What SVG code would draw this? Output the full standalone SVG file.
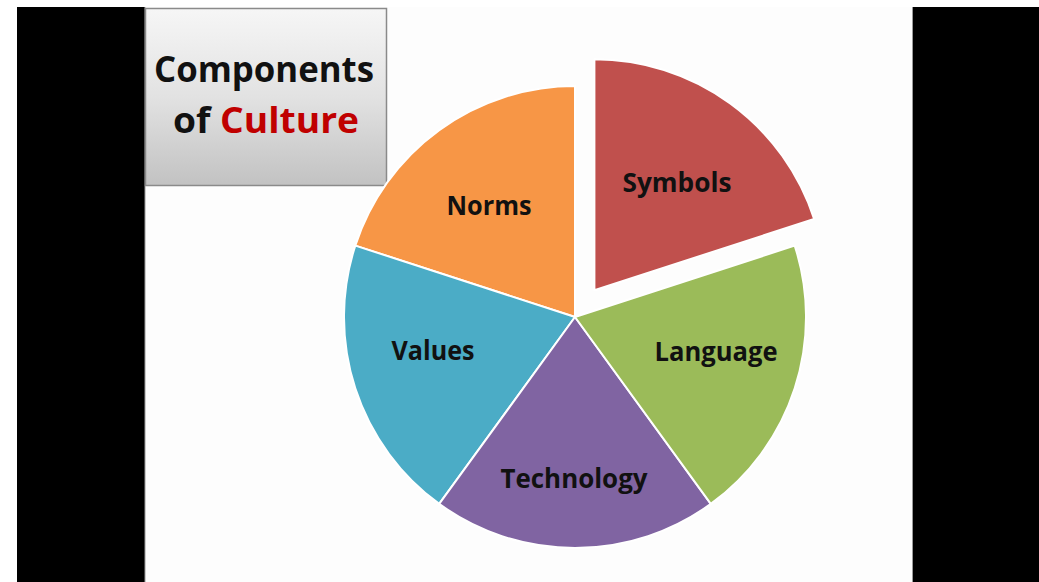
<svg xmlns="http://www.w3.org/2000/svg" width="1039" height="582" viewBox="0 0 1039 582">
<defs>
<linearGradient id="boxg" x1="0" y1="0" x2="0" y2="1">
<stop offset="0" stop-color="#f6f6f6"/>
<stop offset="0.5" stop-color="#e2e2e2"/>
<stop offset="1" stop-color="#c2c2c2"/>
</linearGradient>
</defs>
<style>
.slice{stroke:#ffffff;stroke-width:2;stroke-linejoin:round}
.lbl{font-family:"Open Sans","Liberation Sans",sans-serif;font-weight:bold;font-size:26px;fill:#111111;text-anchor:middle}
.ttl{font-family:"Open Sans","Liberation Sans",sans-serif;font-weight:bold;font-size:36px;fill:#111111;text-anchor:middle}
</style>
<rect x="0" y="0" width="1039" height="582" fill="#ffffff"/>
<rect x="145" y="7" width="768" height="575" fill="#fdfdfd"/>
<rect x="17" y="7" width="128" height="575" fill="#000000"/>
<rect x="913" y="7" width="126" height="575" fill="#000000"/>
<line x1="145" y1="7" x2="145" y2="582" stroke="#9a9a9a" stroke-width="1"/>
<line x1="912.5" y1="7" x2="912.5" y2="582" stroke="#9a9a9a" stroke-width="1"/>

<g id="title">
<rect x="145.5" y="8.5" width="241" height="177" fill="url(#boxg)" stroke="#8a8a8a" stroke-width="1.5"/>
<text class="ttl" x="264" y="82" textLength="220" lengthAdjust="spacingAndGlyphs">Components</text>
<text class="ttl" x="266" y="133" textLength="186" lengthAdjust="spacingAndGlyphs">of <tspan fill="#c00000">Culture</tspan></text>
</g>

<g id="norms">
<path class="slice" fill="#f79646" d="M575 317 L355.3 245.6 A231 231 0 0 1 575 86 Z"/>
<text class="lbl" x="489" y="215" textLength="85" lengthAdjust="spacingAndGlyphs">Norms</text>
</g>
<g id="values">
<path class="slice" fill="#4bacc6" d="M575 317 L439.2 503.9 A231 231 0 0 1 355.3 245.6 Z"/>
<text class="lbl" x="433" y="360" textLength="83" lengthAdjust="spacingAndGlyphs">Values</text>
</g>
<g id="technology">
<path class="slice" fill="#8064a2" d="M575 317 L710.8 503.9 A231 231 0 0 1 439.2 503.9 Z"/>
<text class="lbl" x="574" y="488" textLength="147" lengthAdjust="spacingAndGlyphs">Technology</text>
</g>
<g id="language">
<path class="slice" fill="#9bbb59" d="M575 317 L794.7 245.6 A231 231 0 0 1 710.8 503.9 Z"/>
<text class="lbl" x="716" y="361" textLength="123" lengthAdjust="spacingAndGlyphs">Language</text>
</g>
<g id="symbols">
<path class="slice" fill="#c0504d" d="M594.4 290.3 L594.4 59.3 A231 231 0 0 1 814.1 218.9 Z"/>
<text class="lbl" x="677" y="192" textLength="109" lengthAdjust="spacingAndGlyphs">Symbols</text>
</g>
<g id="connectors"></g>
</svg>
